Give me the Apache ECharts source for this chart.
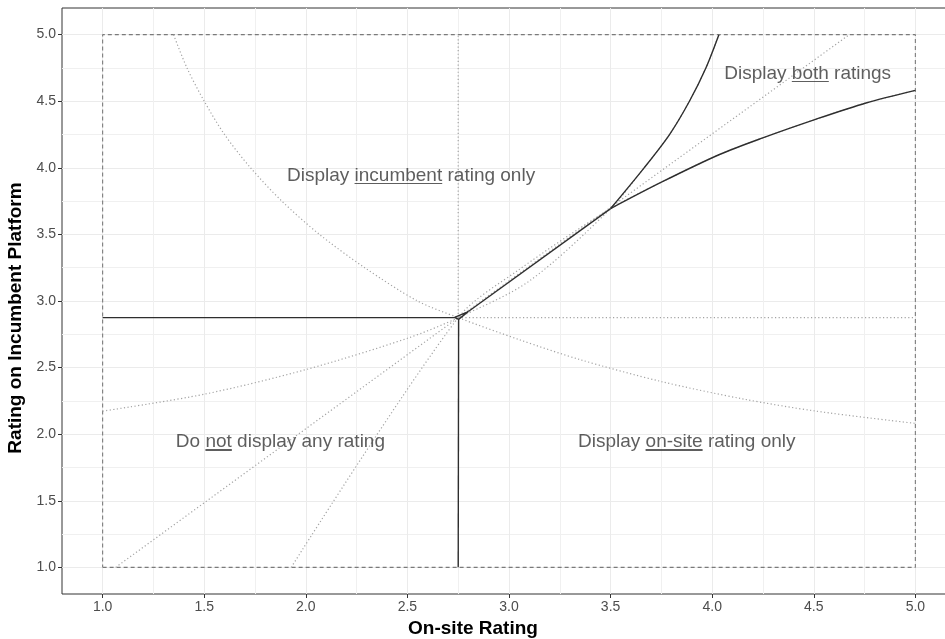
<!DOCTYPE html>
<html><head><meta charset="utf-8">
<script src="https://cdn.jsdelivr.net/npm/echarts@6/dist/echarts.min.js"></script>
<style>html,body{margin:0;padding:0;background:#fff}#c{width:945px;height:639px}</style>
</head><body><div id="c"></div>
<script>
// ---- tick values ----
const xTicks = [1.0, 1.5, 2.0, 2.5, 3.0, 3.5, 4.0, 4.5, 5.0];
const yTicks = [1.0, 1.5, 2.0, 2.5, 3.0, 3.5, 4.0, 4.5, 5.0];
const xMinor = [1.25, 1.75, 2.25, 2.75, 3.25, 3.75, 4.25, 4.75];
const yMinor = [1.25, 1.75, 2.25, 2.75, 3.25, 3.75, 4.25, 4.75];

// ---- rating scale bounds ----
const ratingMin = 1;
const ratingMax = 5;

// ---- dotted reference curves ----
const curveA = [[1.0, 2.173], [1.5, 2.30], [2.0, 2.485], [2.5, 2.72], [2.75, 2.875], [3.1, 3.15], [3.5, 3.694], [3.665, 4.0], [3.79, 4.25], [3.888, 4.5], [3.969, 4.75], [4.033, 5.0]];
const curveB = [[1.928, 1.0], [2.75, 2.875], [3.05, 3.236], [3.5, 3.694], [3.75, 3.892], [4.036, 4.10], [4.249, 4.225], [4.505, 4.362], [4.757, 4.487], [5.0, 4.582]];
const curveC = [[1.349, 5.0], [1.415, 4.75], [1.5, 4.5], [1.6, 4.25], [1.728, 4.0], [1.882, 3.75], [2.067, 3.5], [2.29, 3.25], [2.55, 3.0], [2.75, 2.875], [3.05, 2.71], [3.347, 2.561], [3.75, 2.395], [4.15, 2.265], [4.511, 2.173], [5.0, 2.081]];
const diagLine = [[1.064, 1.0], [2.75, 2.875], [4.675, 5.0]];
const dotVert = [[2.75, 2.875], [2.75, 5.0]];
const dotHoriz = [[2.75, 2.875], [5.0, 2.875]];

// ---- solid region boundaries ----
const solidHoriz = [[1.0, 2.875], [2.732, 2.877], [2.752, 2.862], [2.80, 2.921], [2.732, 2.877]];
const solidVert = [[2.75, 1.0], [2.752, 2.862]];
const solidMid = [[2.80, 2.921], [3.5, 3.694]];
const splitIdxA = 6;
const splitIdxB = 3;

// ---- region labels ----
const labelX = [2.518, 1.875, 3.875, 4.47];
const labelY = [3.94, 1.94, 1.94, 4.705];
const labelText = [
  'Display {u|incumbent} rating only',
  'Do {u|not} display any rating',
  'Display {u|on-site} rating only',
  'Display {u|both} ratings'
];

const FONT = '"Liberation Sans", Arial, Helvetica, sans-serif';
const txtColor = '#363636';

const dotted = { color: '#a3a3a3', width: 1.2, type: [1.2, 2.4] };
const solid = { color: '#2e2e2e', width: 1.4 };

function lineSeries(data, style, smooth) {
  return {
    type: 'line', data: data, showSymbol: false, symbol: 'none',
    smooth: smooth ? 0.3 : false,
    lineStyle: style, silent: true, z: style === solid ? 4 : 3,
    xAxisIndex: 0, yAxisIndex: 0
  };
}

const rect = [[ratingMin, ratingMin], [ratingMax, ratingMin], [ratingMax, ratingMax], [ratingMin, ratingMax], [ratingMin, ratingMin]];

const underlineBg = {
  type: 'linear', x: 0, y: 0, x2: 0, y2: 1,
  colorStops: [
    { offset: 0, color: 'rgba(0,0,0,0)' },
    { offset: 0.80, color: 'rgba(0,0,0,0)' },
    { offset: 0.80, color: txtColor },
    { offset: 0.855, color: txtColor },
    { offset: 0.855, color: 'rgba(0,0,0,0)' },
    { offset: 1, color: 'rgba(0,0,0,0)' }
  ]
};

const chart = echarts.init(document.getElementById('c'), null, { renderer: 'canvas' });

const baseAxis = {
  type: 'value', min: 0.8, max: 5.2, gridIndex: 0
};

chart.setOption({
  animation: false,
  backgroundColor: '#ffffff',
  textStyle: { fontFamily: FONT },
  grid: {
    left: 62, top: 8, width: 894, height: 586,
    show: true, borderColor: '#333333', borderWidth: 1,
    containLabel: false, outerBoundsMode: 'none'
  },
  xAxis: [
    Object.assign({}, baseAxis, {
      position: 'bottom',
      name: 'On-site Rating', nameLocation: 'middle', nameGap: 20,
      nameTextStyle: { fontFamily: FONT, fontSize: 19, fontWeight: 'bold', color: '#000', padding: [0, 72, 0, 0] },
      axisLine: { show: false },
      axisTick: { show: true, length: 4, customValues: xTicks, lineStyle: { color: '#333333', width: 1 } },
      axisLabel: { show: true, customValues: xTicks, formatter: v => v.toFixed(1), color: '#4d4d4d', fontSize: 14, margin: 6, fontFamily: FONT },
      splitLine: { show: true, lineStyle: { color: '#ebebeb', width: 1 } },
      minorTick: { show: false }, minorSplitLine: { show: false }
    }),
    Object.assign({}, baseAxis, {
      position: 'top',
      axisLine: { show: false },
      axisTick: { show: false, customValues: xMinor },
      axisLabel: { show: false, customValues: xMinor },
      splitLine: { show: true, lineStyle: { color: '#f0f0f0', width: 1 } }
    })
  ],
  yAxis: [
    Object.assign({}, baseAxis, {
      position: 'left',
      name: 'Rating on Incumbent Platform', nameLocation: 'middle', nameGap: 33,
      nameTextStyle: { fontFamily: FONT, fontSize: 19, fontWeight: 'bold', color: '#000', padding: [0, 34, 0, 0] },
      axisLine: { show: false },
      axisTick: { show: true, length: 4, customValues: yTicks, lineStyle: { color: '#333333', width: 1 } },
      axisLabel: { show: true, customValues: yTicks, formatter: v => v.toFixed(1), color: '#4d4d4d', fontSize: 14, margin: 6, fontFamily: FONT },
      splitLine: { show: true, lineStyle: { color: '#ebebeb', width: 1 } }
    }),
    Object.assign({}, baseAxis, {
      position: 'right',
      axisLine: { show: false },
      axisTick: { show: false, customValues: yMinor },
      axisLabel: { show: false, customValues: yMinor },
      splitLine: { show: true, lineStyle: { color: '#f0f0f0', width: 1 } }
    })
  ],
  series: [
    lineSeries(rect, { color: '#7a7a7a', width: 1.1, type: [4, 3] }, false),
    lineSeries(curveA, dotted, true),
    lineSeries(curveB, dotted, true),
    lineSeries(curveC, dotted, true),
    lineSeries(diagLine, dotted, false),
    lineSeries(dotVert, dotted, false),
    lineSeries(dotHoriz, dotted, false),
    lineSeries(solidHoriz, solid, false),
    lineSeries(solidVert, solid, false),
    lineSeries(solidMid, solid, false),
    lineSeries(curveA.slice(splitIdxA), solid, true),
    lineSeries(curveB.slice(splitIdxB), solid, true),
    {
      type: 'scatter', symbolSize: 0, silent: true, z: 6,
      data: labelX.map((x, i) => [x, labelY[i], i]),
      label: {
        show: true, position: 'inside',
        formatter: p => labelText[p.data[2]],
        fontFamily: FONT, fontSize: 19, color: txtColor, lineHeight: 24,
        rich: {
          u: { fontFamily: FONT, fontSize: 19, color: txtColor, lineHeight: 24, height: 24, backgroundColor: underlineBg }
        }
      }
    }
  ]
});
</script></body></html>
